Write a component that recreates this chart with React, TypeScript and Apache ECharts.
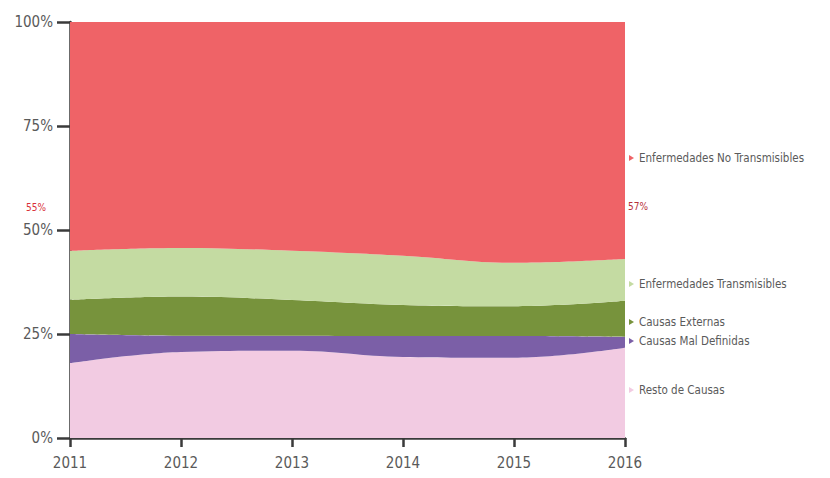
import React, { useEffect, useRef } from "react";
import * as echarts from "echarts";

const years = ["2011", "2012", "2013", "2014", "2015", "2016"];

const restoDeCausas = [18.0, 20.7, 21.0, 19.5, 19.3, 21.7];
const causasMalDefinidas = [7.0, 3.9, 3.6, 5.0, 5.2, 2.6];
const causasExternas = [8.2, 9.4, 8.6, 7.5, 7.2, 8.7];
const enfTransmisibles = [11.8, 11.7, 11.8, 11.8, 10.4, 10.0];
const enfNoTransmisibles = [55.0, 54.3, 55.0, 56.2, 57.9, 57.0];

const seriesNames = [
  "Resto de Causas",
  "Causas Mal Definidas",
  "Causas Externas",
  "Enfermedades Transmisibles",
  "Enfermedades No Transmisibles",
];
const seriesColors = ["#f2cbe2", "#7b5fa7", "#77933c", "#c4dba2", "#ef6367"];

const FONT = "'Liberation Sans Narrow', 'DejaVu Sans Condensed', 'Roboto', sans-serif";

export default function App() {
  const ref = useRef<HTMLDivElement>(null);

  useEffect(() => {
    if (!ref.current) return;
    const chart = echarts.init(ref.current, undefined, { renderer: "svg" });
    const data = [restoDeCausas, causasMalDefinidas, causasExternas, enfTransmisibles, enfNoTransmisibles];

    chart.setOption({
      animation: false,
      backgroundColor: "#ffffff",
      grid: { left: 70, right: 205, top: 22, bottom: 40 },
      xAxis: {
        type: "category",
        data: years,
        boundaryGap: false,
        axisLine: { lineStyle: { color: "#3a3a3a", width: 2.5 } },
        axisTick: { show: true, length: 9, lineStyle: { color: "#3a3a3a", width: 2.5 } },
        axisLabel: { color: "#5a5a5a", fontFamily: FONT, fontSize: 15, margin: 17 },
      },
      yAxis: {
        type: "value",
        min: 0,
        max: 100,
        interval: 25,
        axisLine: { show: true, lineStyle: { color: "#3a3a3a", width: 2.5 } },
        axisTick: { show: true, length: 13, lineStyle: { color: "#3a3a3a", width: 2.5 } },
        splitLine: { show: false },
        axisLabel: {
          color: "#5a5a5a",
          fontFamily: FONT,
          fontSize: 15,
          margin: 17,
          formatter: (v: number) => `${v}%`,
        },
      },
      series: data.map((d, i) => ({
        name: seriesNames[i],
        type: "line",
        stack: "total",
        smooth: 0.4,
        showSymbol: false,
        symbol: "none",
        lineStyle: { width: 0 },
        areaStyle: { color: seriesColors[i], opacity: 1 },
        itemStyle: { color: seriesColors[i] },
        data: d,
        z: 2,
      })),
      graphic: [
        { type: "text", left: 26, top: 202, style: { text: "55%", fill: "#d9323a", font: `10px ${FONT}` } },
        { type: "text", left: 628, top: 201, style: { text: "57%", fill: "#b8303a", font: `10px ${FONT}` } },
        ...[
          { name: seriesNames[4], y: 158, color: seriesColors[4] },
          { name: seriesNames[3], y: 284, color: seriesColors[3] },
          { name: seriesNames[2], y: 322, color: seriesColors[2] },
          { name: seriesNames[1], y: 341, color: seriesColors[1] },
          { name: seriesNames[0], y: 390, color: seriesColors[0] },
        ].flatMap((it) => [
          {
            type: "polygon",
            shape: { points: [[629, it.y - 3], [634, it.y], [629, it.y + 3]] },
            style: { fill: it.color },
          },
          {
            type: "text",
            x: 639,
            y: it.y,
            style: {
              text: it.name,
              fill: "#5a5a5a",
              font: `11.5px ${FONT}`,
              verticalAlign: "middle",
            },
          },
        ]),
      ],
    });

    return () => chart.dispose();
  }, []);

  return <div ref={ref} style={{ width: 830, height: 478, position: "absolute", left: 0, top: 0 }} />;
}
